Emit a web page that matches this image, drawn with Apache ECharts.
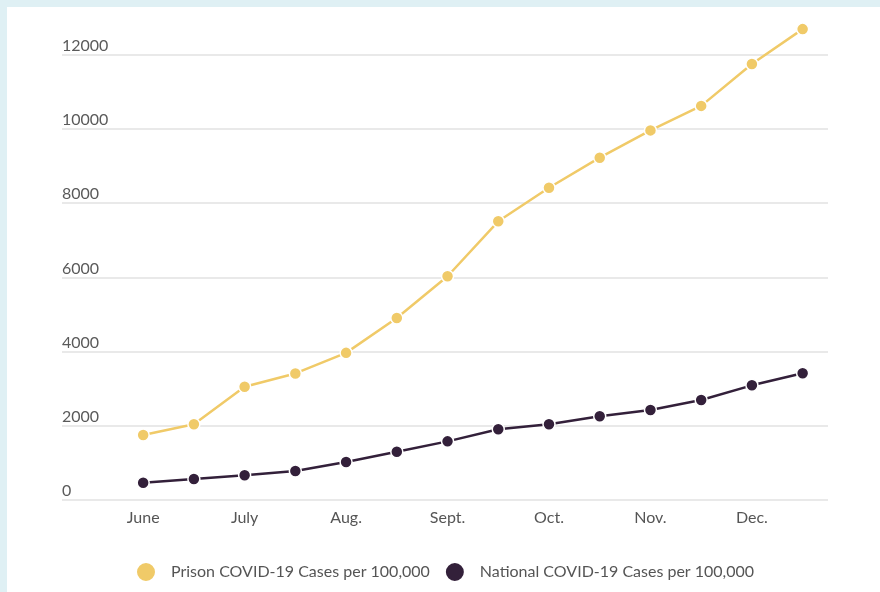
<!DOCTYPE html>
<html>
<head>
<meta charset="utf-8">
<script src="https://cdn.jsdelivr.net/npm/echarts@6/dist/echarts.min.js"></script>
<style>
  html, body { margin: 0; padding: 0; width: 880px; height: 592px; background: #dff0f4; overflow: hidden; }
  #bg { position: absolute; left: 7px; top: 7px; width: 873px; height: 585px; background: #ffffff; }
  #chart { position: absolute; left: 0; top: 0; width: 880px; height: 592px; }
</style>
</head>
<body>
<div id="bg"></div>
<div id="chart"></div>
<script>
// Half-month periods, June through December
const periods = ['Jun 1','Jun 15','Jul 1','Jul 15','Aug 1','Aug 15','Sep 1','Sep 15','Oct 1','Oct 15','Nov 1','Nov 15','Dec 1','Dec 15'];
const monthLabels = ['June','July','Aug.','Sept.','Oct.','Nov.','Dec.'];
const monthTickIndex = [0, 2, 4, 6, 8, 10, 12];
const yTicks = [0, 2000, 4000, 6000, 8000, 10000, 12000];

const prisonName = 'Prison COVID-19 Cases per 100,000';
const nationalName = 'National COVID-19 Cases per 100,000';
const prison = [1750, 2040, 3050, 3410, 3965, 4905, 6030, 7510, 8415, 9225, 9960, 10620, 11750, 12690];
const national = [465, 565, 665, 780, 1025, 1300, 1580, 1905, 2040, 2255, 2425, 2695, 3090, 3415];

const toPairs = arr => arr.map((v, i) => [i, v]);

const chart = echarts.init(document.getElementById('chart'), null, { renderer: 'canvas' });
chart.setOption({
  backgroundColor: 'transparent',
  animation: false,
  textStyle: { fontFamily: 'Lato' },
  grid: { left: 62, right: 52, top: 54.7, bottom: 92, containLabel: false },
  legend: {
    top: 556,
    left: 130,
    icon: 'circle',
    itemWidth: 20,
    itemHeight: 20,
    itemGap: 14,
    textStyle: { fontFamily: 'Lato', fontSize: 16, color: '#555555', padding: [0, 0, 0, 10] },
    data: [prisonName, nationalName]
  },
  xAxis: {
    type: 'value',
    min: -1.6,
    max: 13.5,
    axisLine: { show: false },
    axisTick: { show: false },
    splitLine: { show: false },
    axisLabel: {
      customValues: monthTickIndex,
      formatter: v => monthLabels[monthTickIndex.indexOf(Math.round(v))] || '',
      fontFamily: 'Lato',
      fontSize: 16,
      color: '#555555',
      margin: 10
    }
  },
  yAxis: {
    type: 'value',
    min: yTicks[0],
    max: yTicks[yTicks.length - 1],
    interval: 2000,
    axisLine: { show: false },
    axisTick: { show: false },
    splitLine: { lineStyle: { color: '#e2e2e2', width: 1.5 } },
    axisLabel: {
      inside: true,
      margin: 0,
      verticalAlign: 'bottom',
      padding: [0, 0, 1, 0],
      formatter: v => String(v),
      fontFamily: 'Lato',
      fontSize: 16,
      color: '#5a5a5a'
    }
  },
  series: [
    {
      name: prisonName,
      type: 'line',
      data: toPairs(prison),
      clip: false,
      symbol: 'circle',
      symbolSize: 12,
      lineStyle: { color: '#f0ca68', width: 2.5 },
      itemStyle: { color: '#f0ca68', borderColor: '#ffffff', borderWidth: 1.5 },
      z: 3
    },
    {
      name: nationalName,
      type: 'line',
      data: toPairs(national),
      clip: false,
      symbol: 'circle',
      symbolSize: 12,
      lineStyle: { color: '#33203a', width: 2.5 },
      itemStyle: { color: '#33203a', borderColor: '#ffffff', borderWidth: 1.5 },
      z: 4
    }
  ]
});
</script>
</body>
</html>
